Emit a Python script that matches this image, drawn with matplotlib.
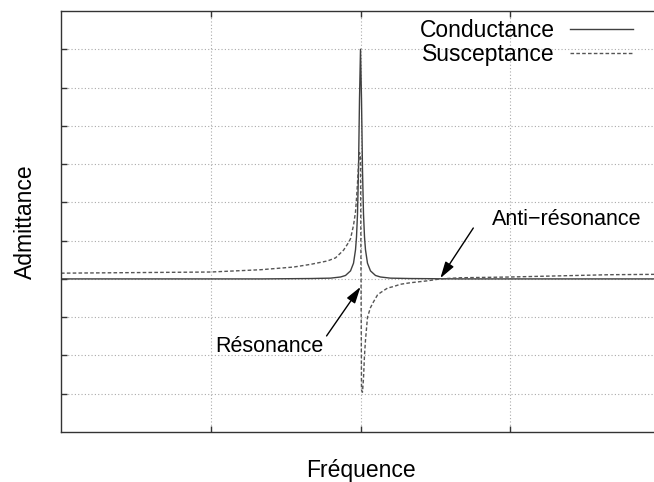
import matplotlib
matplotlib.use("Agg")
from matplotlib import pyplot as plt

# police
plt.rcParams['font.family'] = ['Liberation Sans', 'DejaVu Sans']

# données (fréquence en unités arbitraires, admittance en unités de grille)
cond_x = [0, 100, 200, 250, 270, 280, 285, 290, 293, 295, 296, 297, 298, 299, 300,
          301, 302, 303, 304, 305, 307, 310, 315, 320, 330, 350, 400, 500, 600]
cond_y = [0.0, 0.0, 0.0, 0.01, 0.02, 0.05, 0.09, 0.21, 0.41, 0.76, 1.1, 1.7, 2.85, 4.7, 6.0,
          4.7, 2.85, 1.7, 1.1, 0.76, 0.41, 0.21, 0.09, 0.05, 0.02, 0.01, 0.0, 0.0, 0.0]

susc_x = [0, 100, 150, 200, 233, 250, 267, 275, 283, 288, 290, 293, 295, 296, 297, 298, 299, 300,
          301, 302, 303, 304, 305, 307, 310, 313, 317, 320, 327, 333, 340, 350, 367, 380,
          400, 450, 500, 550, 600]
susc_y = [0.15, 0.17, 0.18, 0.24, 0.31, 0.38, 0.47, 0.55, 0.75, 0.95, 1.05, 1.4, 1.75, 2.1, 2.5, 3.0, 3.3, 3.2,
          -2.9, -2.96, -2.6, -2.0, -1.6, -1.0, -0.75, -0.6, -0.42, -0.36, -0.24, -0.2, -0.14, -0.1, -0.05, 0.0,
          0.03, 0.05, 0.08, 0.11, 0.12]

x_ticks = [150, 300, 450]
y_ticks = [-3, -2, -1, 0, 1, 2, 3, 4, 5, 6]

# figure
fig = plt.figure(figsize=(6.54, 4.82), dpi=100)
ax = fig.add_axes([61/654, 50/482, (660-61)/654, (432-11)/482])

ax.plot(cond_x, cond_y, color='#404040', lw=1.0, label='Conductance')
ax.plot(susc_x, susc_y, color='#555555', lw=1.0, dashes=(2.6, 1.6), label='Susceptance')

ax.set_xlim(0, 600)
ax.set_ylim(-4, 7)
ax.set_xticks(x_ticks)
ax.set_yticks(y_ticks)
ax.set_xticklabels([])
ax.set_yticklabels([])
ax.tick_params(direction='in', length=4.3, width=1, top=True, right=True, color='#333333')
ax.grid(True, color='#aaaaaa', lw=0.8, dashes=(1, 2))
for s in ax.spines.values():
    s.set_color('#333333')
    s.set_linewidth(1)

ax.set_xlabel("Fréquence", fontsize=16.5, labelpad=16)
ax.set_ylabel("Admittance", fontsize=16.5, labelpad=14)

# annotations
flèche = dict(arrowstyle='-|>,head_length=1.0,head_width=0.3', color='black', lw=1,
              shrinkA=0, shrinkB=0, mutation_scale=10)
ax.text(209, -1.91, "Résonance", fontsize=15.5, ha='center', va='baseline')
ax.annotate('', xy=(300, -0.21), xytext=(266, -1.49), arrowprops=flèche)
ax.text(507, 1.41, "Anti\u2212résonance", fontsize=15.5, ha='center', va='baseline')
ax.annotate('', xy=(380, 0.02), xytext=(413, 1.33), arrowprops=flèche)

# légende
ax.legend(loc='upper right', bbox_to_anchor=(633/654, 1 - 19/482), bbox_transform=fig.transFigure,
          frameon=False, markerfirst=False, fontsize=16.5, handlelength=2.75, handletextpad=0.65,
          labelspacing=0.05, borderpad=0, borderaxespad=0)

plt.savefig("out.png")
